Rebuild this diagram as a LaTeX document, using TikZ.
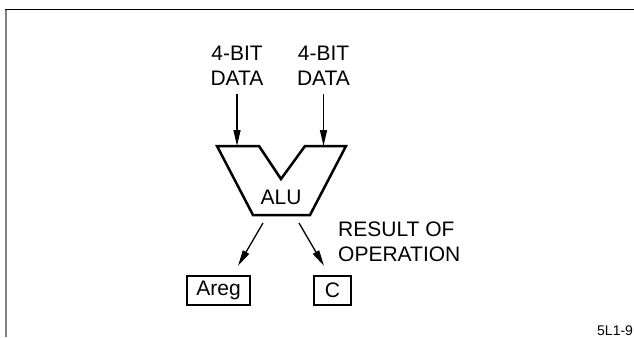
\documentclass[tikz,border=0pt]{standalone}
\usepackage{fontspec}
\setmainfont{Liberation Sans}
\usetikzlibrary{arrows.meta}
\begin{document}
\begin{tikzpicture}[x=1bp,y=-1bp,
  lbl/.style={font=\fontsize{21bp}{25bp}\selectfont, align=center, inner sep=0pt},
  boxnode/.style={draw, line width=2.3bp, font=\fontsize{21bp}{25bp}\selectfont,
    inner xsep=9bp, inner ysep=0pt, minimum height=29bp, minimum width=37bp},
  arr/.style={-{Triangle[length=16bp,width=7bp]}, line width=1.3bp},
  alushape/.style={line width=2.5bp, line join=miter}]
\useasboundingbox (0,0) rectangle (634,337);
% frame
\draw[line width=1.8bp, black] (634,9.5) -- (4.7,9.5);
\draw[line width=2bp, black!50] (5.5,9.5) -- (5.5,337);
% inputs
\node[lbl] (d1) at (237,66) {4-BIT\\DATA};
\node[lbl] (d2) at (323.5,66) {4-BIT\\DATA};
% ALU shape
\coordinate (tl) at (217,146);
\coordinate (in1) at (237,146);
\coordinate (til) at (259,146);
\coordinate (notch) at (281,179);
\coordinate (tir) at (305,146);
\coordinate (in2) at (323.5,146);
\coordinate (tr) at (346,146);
\coordinate (br) at (310,215);
\coordinate (bl) at (253,215);
\draw[alushape] (tl) -- (til) -- (notch) -- (tir) -- (tr) -- (br) -- (bl) -- cycle;
\node[lbl] (alu) at (281,197) {ALU};
\draw[arr, shorten <=8bp] (d1.south) -- (in1);
\draw[arr, shorten <=8bp] (d2.south) -- (in2);
% outputs
\node[boxnode] (areg) at (218.5,290.5) {Areg};
\node[boxnode] (c) at (332.5,290.5) {C};
\coordinate (o1) at (263,223);
\coordinate (o2) at (299,223);
\coordinate (e1) at ([xshift=19.5bp,yshift=9bp]areg.north);
\coordinate (e2) at ([xshift=-8.5bp,yshift=9bp]c.north);
\draw[arr] (o1) -- (e1);
\draw[arr] (o2) -- (e2);
\node[lbl, align=left, anchor=west] (res) at (338,242) {RESULT OF\\OPERATION};
\node[font=\fontsize{14bp}{16bp}\selectfont, inner sep=0pt, anchor=base west] (fig) at (597,335) {5L1-9};
\end{tikzpicture}
\end{document}
